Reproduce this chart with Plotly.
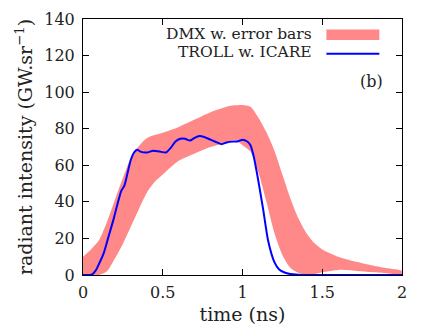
import plotly.graph_objects as go

# DMX measurement band (lower / upper edge of error bars)
t_band = [0, 0.05, 0.1, 0.15, 0.2, 0.25, 0.3, 0.35, 0.4, 0.45, 0.5, 0.6, 0.7, 0.8, 0.9, 0.95,
          1.0, 1.05, 1.1, 1.15, 1.2, 1.25, 1.3, 1.35, 1.4, 1.45, 1.5, 1.6, 1.7, 1.8, 1.9, 2.0]
dmx_upper = [10, 14, 19, 29, 41, 53, 64, 70.5, 74.8, 76.5, 77.8, 81, 85, 89, 92, 92.8,
             93, 92, 86, 78, 68, 55, 42, 31, 23, 17.5, 14, 10, 7.5, 5.5, 3.8, 2.2]
dmx_lower = [0, 0, 0, 2, 9, 17, 26.5, 36, 45, 51, 55, 62.5, 66.5, 70, 72.5, 74,
             71, 67.5, 56, 40, 23, 11, 4, 1.2, 0.4, 0.5, 1.5, 2.8, 2.3, 1.6, 1, 0.5]

# TROLL simulation with ICARE
t_troll = [0, 0.04, 0.06, 0.08, 0.1, 0.13, 0.16, 0.19, 0.22, 0.24, 0.26, 0.28, 0.3, 0.32,
           0.34, 0.36, 0.4, 0.44, 0.48, 0.52, 0.55, 0.58, 0.61, 0.64, 0.67, 0.7, 0.73, 0.76,
           0.8, 0.84, 0.87, 0.9, 0.94, 0.97, 1.0, 1.03, 1.05, 1.07, 1.09, 1.11, 1.13, 1.16,
           1.2, 1.23, 1.26, 1.3, 1.35, 1.4, 1.6, 2.0]
troll = [0, 0, 0.5, 2.5, 6, 12, 21, 30, 40, 46, 49, 56, 63, 67,
         68.5, 67.5, 67, 68, 67.5, 67, 69.5, 73, 74.5, 74.5, 73.5, 75, 76, 75.5,
         74, 72.5, 71.5, 72.5, 73, 73, 74, 73, 71, 65, 56, 46, 35.6, 19,
         7, 3, 1.5, 0.5, 0.1, 0, 0, 0]

FONT = "DejaVu Serif"
RED = "#ff8888"
BLUE = "#0000ff"

fig = go.Figure()

fig.add_trace(go.Scatter(x=t_band + t_band[::-1], y=dmx_upper + dmx_lower[::-1],
                         fill="toself", fillcolor=RED, mode="lines",
                         line=dict(width=0, color=RED, shape="spline", smoothing=0.7),
                         hoverinfo="skip"))
fig.add_trace(go.Scatter(x=t_troll, y=troll, mode="lines",
                         line=dict(color=BLUE, width=2, shape="spline", smoothing=0.6)))

# legend drawn by hand: text on the left, sample on the right
fig.add_annotation(text="DMX w. error bars", xref="paper", yref="paper", x=0.722, y=0.943,
                   xanchor="right", yanchor="middle", showarrow=False, borderpad=0,
                   font=dict(size=15.5))
fig.add_shape(type="rect", xref="paper", yref="paper", x0=0.763, x1=0.929, y0=0.918, y1=0.959,
              fillcolor=RED, line_width=0)
fig.add_annotation(text="TROLL w. ICARE", xref="paper", yref="paper", x=0.722, y=0.872,
                   xanchor="right", yanchor="middle", showarrow=False, borderpad=0,
                   font=dict(size=15.5))
fig.add_shape(type="line", xref="paper", yref="paper", x0=0.763, x1=0.929, y0=0.864, y1=0.864,
              line=dict(color=BLUE, width=2))
fig.add_annotation(text="(b)", xref="paper", yref="paper", x=0.905, y=0.757,
                   xanchor="center", yanchor="middle", showarrow=False)

axis_style = dict(showline=True, linecolor="black", linewidth=1, mirror="ticks",
                  ticks="inside", ticklen=6, tickcolor="black", showgrid=False,
                  zeroline=False, automargin=False, tickfont=dict(size=16))

fig.update_xaxes(range=[0, 2], dtick=0.5, ticklabelstandoff=3,
                 title=dict(text="time (ns)", standoff=6), **axis_style)
fig.update_yaxes(range=[0, 140], dtick=20, ticklabelstandoff=4,
                 title=dict(text="radiant intensity (GW.sr<sup>−1</sup>)", standoff=6), **axis_style)

fig.update_layout(width=435, height=327, margin=dict(l=83, r=33, t=19, b=52),
                  plot_bgcolor="white", paper_bgcolor="white", showlegend=False,
                  font=dict(family=FONT, size=16, color="#222222"))

fig.write_html("out.html", config={"displayModeBar": False},
               post_script="document.body.style.margin='0';")
